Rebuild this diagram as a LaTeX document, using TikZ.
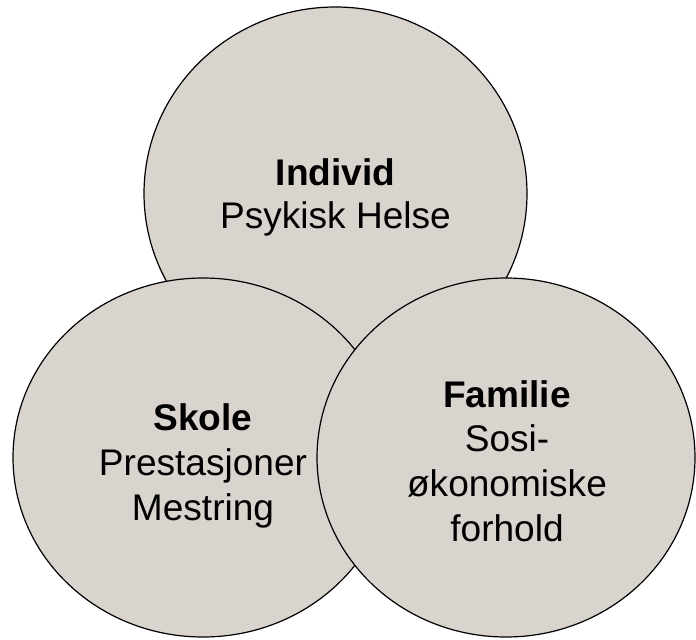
\documentclass[tikz,border=0pt]{standalone}
\usepackage{fontspec}
\setmainfont{Liberation Sans}
\usepackage{tikz}
\definecolor{bubblefill}{RGB}{218,212,206}

\begin{document}
\begin{tikzpicture}[x=0.75pt,y=0.75pt,yscale=-1,xscale=1,
    bubble/.style={draw=black,line width=0.9pt,fill=bubblefill},
    bubbletext/.style={align=center,inner sep=0pt,font=\fontsize{27.8}{#1}\selectfont},
    bubbletext/.default=33.6pt]
        %set diagram left start at 0, and has height of 639
        \useasboundingbox (0,0) rectangle (696,639);

        %Shape: Ellipse (Individ)
        \draw [bubble] (335.5,193.5) ellipse [x radius=191.5, y radius=186.5];
        %Shape: Ellipse (Skole)
        \draw [bubble] (203,457.5) ellipse [x radius=190, y radius=179.5];
        %Shape: Ellipse (Familie)
        \draw [bubble] (506,457.5) ellipse [x radius=189, y radius=179.5];

        % Text Node
        \node [bubbletext=31.9pt] (individ) at (335.5,197.5) {\textbf{Individ}\\Psykisk Helse};
        % Text Node
        \node [bubbletext] (skole) at (203,466) {\textbf{Skole}\\Prestasjoner\\Mestring};
        % Text Node
        \node [bubbletext] (familie) at (507,461) {\textbf{Familie}\\Sosi-\\økonomiske\\forhold};
\end{tikzpicture}
\end{document}
